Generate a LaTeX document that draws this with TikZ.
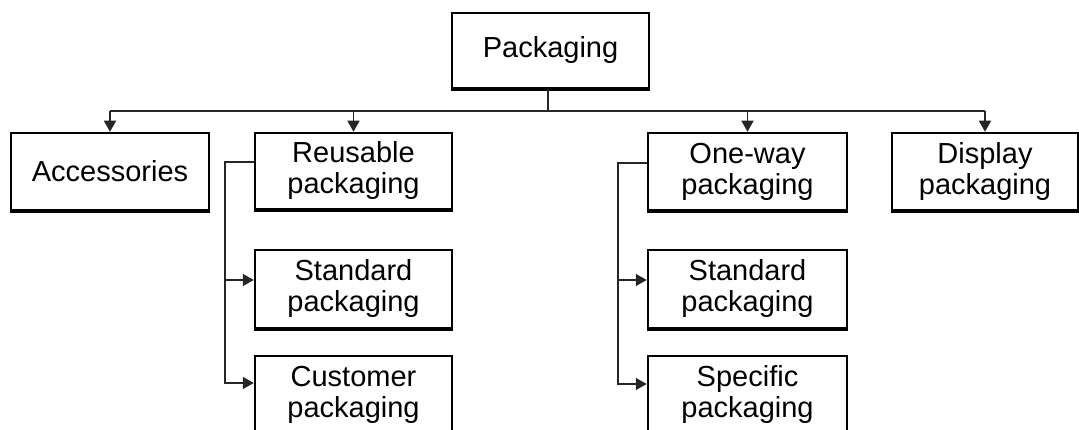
\documentclass[tikz,border=0pt]{standalone}
\usepackage{fontspec}
\setmainfont{Liberation Sans}
\usetikzlibrary{arrows.meta,calc}
\begin{document}
\begin{tikzpicture}[x=1pt,y=-1pt,
  box/.style={draw=black,line width=2.5pt,fill=white,inner sep=0pt,align=center,
    font=\fontsize{29}{31}\selectfont,
    append after command={\pgfextra{\draw[black,line width=3.6pt]
      (\tikzlastnode.south west) -- (\tikzlastnode.south east);}}},
  conn/.style={draw=black!85,line width=1.7pt},
  arr/.style={conn,-{Triangle[length=11pt,width=12pt]}}]
\path[use as bounding box,clip] (0,0) rectangle (1079,430);
\fill[white] (0,0) rectangle (1079,430);
% nodes
\node[box,minimum width=197pt,minimum height=75pt] (pack) at (550.5,50.5) {Packaging};
\node[box,minimum width=198pt,minimum height=77pt] (acc) at (110,171.5) {Accessories};
\node[box,minimum width=197pt,minimum height=76pt] (reu) at (353.5,171) {Reusable\\packaging};
\node[box,minimum width=199pt,minimum height=77pt] (one) at (747.5,171.5) {One-way\\packaging};
\node[box,minimum width=186pt,minimum height=77pt] (disp) at (985,171.5) {Display\\packaging};
\node[box,minimum width=197pt,minimum height=78pt] (stdl) at (353.5,289) {Standard\\packaging};
\node[box,minimum width=197pt,minimum height=78pt] (cust) at (353.5,395) {Customer\\packaging};
\node[box,minimum width=199pt,minimum height=78pt] (stdr) at (747.5,289) {Standard\\packaging};
\node[box,minimum width=199pt,minimum height=78pt] (spec) at (747.5,395) {Specific\\packaging};
% top bus
\coordinate (bus) at (548,111);
\draw[conn] (pack.south -| bus) -- (bus);
\draw[conn] (acc.north |- bus) -- (disp.north |- bus);
\draw[arr] (acc.north |- bus) -- (acc.north);
\draw[arr] (reu.north |- bus) -- (reu.north);
\draw[arr] (one.north |- bus) -- (one.north);
\draw[arr] (disp.north |- bus) -- (disp.north);
% left bracket
\coordinate (rb) at (225,162);
\coordinate (s1) at ($(stdl.west)+(0,-9)$);
\coordinate (c1) at ($(cust.west)+(0,-12)$);
\draw[arr] (reu.west |- rb) -- (rb) -- (rb |- c1) -- (c1);
\draw[arr] (rb |- s1) -- (s1);
% right bracket
\coordinate (ob) at (618,163);
\coordinate (s2) at ($(stdr.west)+(0,-9)$);
\coordinate (c2) at ($(spec.west)+(0,-11)$);
\draw[arr] (one.west |- ob) -- (ob) -- (ob |- c2) -- (c2);
\draw[arr] (ob |- s2) -- (s2);
\end{tikzpicture}
\end{document}
